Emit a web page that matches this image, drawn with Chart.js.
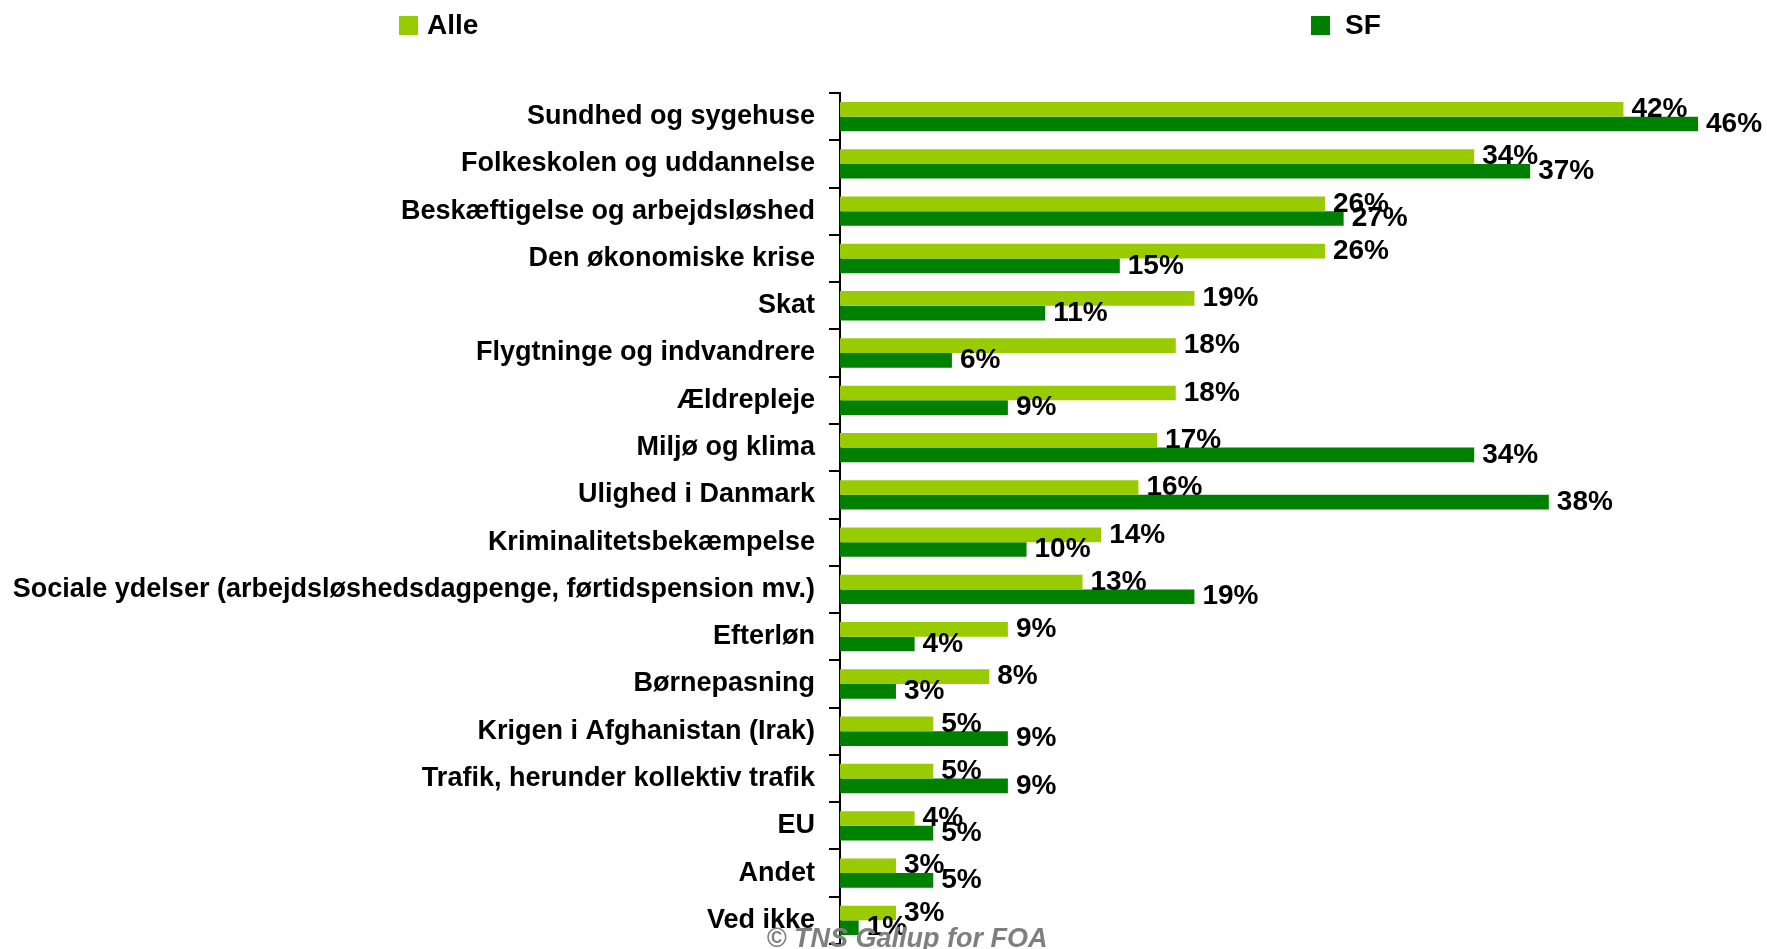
<!DOCTYPE html>
<html>
<head>
<meta charset="utf-8">
<script src="https://cdn.jsdelivr.net/npm/chart.js@4"></script>
<style>
  html, body { margin: 0; padding: 0; background: #fff; }
  #wrap { width: 1767px; height: 949px; }
</style>
</head>
<body>
<div id="wrap"><canvas id="chart" width="1767" height="949"></canvas></div>
<script>
// data (percent)
const categories = [
  'Sundhed og sygehuse',
  'Folkeskolen og uddannelse',
  'Beskæftigelse og arbejdsløshed',
  'Den økonomiske krise',
  'Skat',
  'Flygtninge og indvandrere',
  'Ældrepleje',
  'Miljø og klima',
  'Ulighed i Danmark',
  'Kriminalitetsbekæmpelse',
  'Sociale ydelser (arbejdsløshedsdagpenge, førtidspension mv.)',
  'Efterløn',
  'Børnepasning',
  'Krigen i Afghanistan (Irak)',
  'Trafik, herunder kollektiv trafik',
  'EU',
  'Andet',
  'Ved ikke'
];
const alleValues = [42, 34, 26, 26, 19, 18, 18, 17, 16, 14, 13, 9, 8, 5, 5, 4, 3, 3];
const sfValues   = [46, 37, 27, 15, 11, 6, 9, 34, 38, 10, 19, 4, 3, 9, 9, 5, 5, 1];
const seriesNames = ['Alle', 'SF'];
const seriesColors = ['#99cc00', '#008000'];
const sourceNote = '© TNS Gallup for FOA';

const FONT = '"Liberation Sans", Arial, Helvetica, sans-serif';

// value labels at the end of each bar
const barLabels = {
  id: 'barLabels',
  afterDatasetsDraw(chart) {
    const ctx = chart.ctx;
    ctx.save();
    ctx.font = 'bold 28px ' + FONT;
    ctx.fillStyle = '#000';
    ctx.textAlign = 'left';
    ctx.textBaseline = 'middle';
    chart.data.datasets.forEach((ds, i) => {
      chart.getDatasetMeta(i).data.forEach((bar, j) => {
        ctx.fillText(ds.data[j] + '%', bar.x + 8, bar.y);
      });
    });
    ctx.restore();
  }
};

// legend spread across the top, like the original
const topLegend = {
  id: 'topLegend',
  afterDraw(chart) {
    const ctx = chart.ctx;
    const spots = [399, 1311];
    const gaps = [28, 34];
    ctx.save();
    ctx.font = 'bold 28px ' + FONT;
    ctx.textBaseline = 'middle';
    ctx.textAlign = 'left';
    chart.data.datasets.forEach((ds, i) => {
      ctx.fillStyle = ds.backgroundColor;
      ctx.fillRect(spots[i], 16, 19, 19);
      ctx.fillStyle = '#000';
      ctx.fillText(ds.label, spots[i] + gaps[i], 26);
    });
    ctx.restore();
  }
};

// source note in the bottom
const source = {
  id: 'source',
  afterDraw(chart) {
    const ctx = chart.ctx;
    ctx.save();
    ctx.font = 'italic bold 27px ' + FONT;
    ctx.fillStyle = '#7f7f7f';
    ctx.textAlign = 'center';
    ctx.textBaseline = 'alphabetic';
    ctx.fillText(sourceNote, 907, 947);
    ctx.restore();
  }
};

new Chart(document.getElementById('chart'), {
  type: 'bar',
  data: {
    labels: categories,
    datasets: [
      { label: seriesNames[0], data: alleValues, backgroundColor: seriesColors[0] },
      { label: seriesNames[1], data: sfValues, backgroundColor: seriesColors[1] }
    ]
  },
  options: {
    indexAxis: 'y',
    responsive: false,
    animation: false,
    events: [],
    layout: { padding: { top: 93, bottom: 5, right: 13, left: 0 } },
    datasets: {
      bar: { categoryPercentage: 0.62, barPercentage: 1.0 }
    },
    scales: {
      x: { display: false, min: 0, max: 49 },
      y: {
        afterFit: s => { s.width = 840; s.paddingTop = 0; s.paddingBottom = 0; },
        border: { display: true, color: '#000', width: 2 },
        grid: { drawOnChartArea: false, color: '#000', lineWidth: 2, tickLength: 11, offset: true },
        ticks: { color: '#000', padding: 14, font: { family: FONT, size: 27, weight: 'bold' } }
      }
    },
    plugins: {
      legend: { display: false },
      tooltip: { enabled: false }
    }
  },
  plugins: [barLabels, topLegend, source]
});
</script>
</body>
</html>
